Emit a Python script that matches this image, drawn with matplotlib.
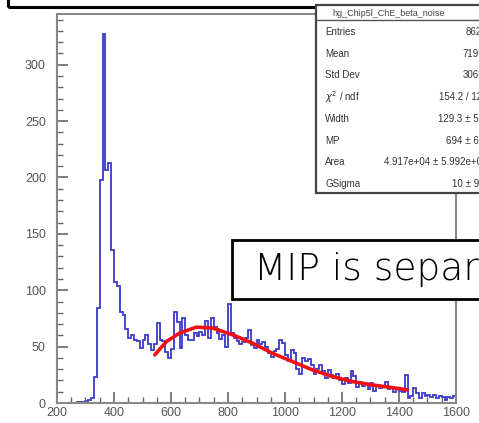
import matplotlib
matplotlib.use("Agg")
import matplotlib.pyplot as plt
import numpy as np
from matplotlib.patches import Rectangle
from matplotlib.ticker import MultipleLocator

W, H = 479, 423

# histogram: 10-unit bins from 200 to 1600
bin_edges = np.arange(200, 1601, 10)
counts = [
    0, 0, 0, 0, 0, 0, 0, 1, 1, 0,
    2, 3, 4, 23, 84, 198, 327, 207, 213, 136,
    107, 104, 81, 78, 66, 58, 60, 56, 55, 49,
    56, 60, 52, 47, 52, 71, 56, 55, 45, 40,
    48, 81, 72, 49, 75, 60, 56, 56, 62, 59,
    63, 60, 73, 58, 75, 67, 62, 57, 60, 50,
    88, 62, 58, 55, 52, 54, 58, 65, 51, 49,
    56, 52, 54, 50, 44, 41, 46, 48, 56, 53,
    43, 37, 47, 44, 30, 26, 40, 37, 39, 34,
    26, 30, 34, 28, 22, 29, 25, 22, 26, 20,
    17, 22, 18, 28, 24, 14, 19, 15, 17, 12,
    18, 11, 16, 13, 15, 19, 12, 14, 10, 13,
    11, 10, 25, 4, 6, 13, 9, 4, 9, 6,
    7, 5, 7, 4, 6, 5, 3, 5, 4, 6,
]

# red fit curve
fit_x = [543, 584, 630, 689, 747, 817, 887, 957, 1027, 1097, 1167, 1237, 1307, 1377, 1430]
fit_y = [42.7, 54.5, 62.0, 67.3, 66.4, 60.4, 53.0, 44.0, 36.7, 29.3, 23.4, 19.0, 16.0, 13.6, 11.6]

stat_labels = ["Entries", "Mean", "Std Dev", r"$\chi^{2}$ / ndf", "Width", "MP", "Area", "GSigma"]
stat_values = ["8620", "719.5", "306.3", "154.2 / 123", "129.3 \u00b1 5.3", "694 \u00b1 6.4",
               "4.917e+04 \u00b1 5.992e+02", "10 \u00b1 9.1"]
stat_title = "hg_Chip5l_ChE_beta_noise"
note_text = "MIP is separated"


def fx(px):
    return px / W


def fy(py):
    return 1 - py / H


fig = plt.figure(figsize=(W / 100, H / 100), dpi=100)
ax = fig.add_axes([fx(57), fy(403), (456 - 57) / W, (403 - 14) / H])

ax.stairs(counts, bin_edges, color="#3a3ac8", lw=1.3)
ax.plot(fit_x, fit_y, color="#f01010", lw=2.6, solid_capstyle="round")

ax.set_xlim(200, 1600)
ax.set_ylim(0, 345)
ax.xaxis.set_major_locator(MultipleLocator(200))
ax.xaxis.set_minor_locator(MultipleLocator(50))
ax.yaxis.set_major_locator(MultipleLocator(50))
ax.yaxis.set_minor_locator(MultipleLocator(10))
ax.tick_params(which="both", direction="in", color="#666666", top=False, right=False,
               labelsize=9, labelcolor="#555555")
ax.tick_params(which="major", length=8, width=1.2)
ax.tick_params(which="minor", length=4, width=1.0)
ax.tick_params(axis="y", pad=8)
ax.tick_params(axis="x", pad=3)
for lab in ax.get_xticklabels() + ax.get_yticklabels():
    lab.set_family("Liberation Sans")
for side in ("left", "bottom", "top", "right"):
    ax.spines[side].set_color("#888888")
    ax.spines[side].set_linewidth(1.5)

# top black box (cut off by the crop)
fig.patches.append(Rectangle((fx(8), fy(7)), fx(520), 0.1, transform=fig.transFigure,
                             fill=False, ec="black", lw=2.2, zorder=5))

# stats box
fig.patches.append(Rectangle((fx(316), fy(193)), fx(200), (193 - 5) / H,
                             transform=fig.transFigure, fc="white", ec="#444444",
                             lw=1.6, zorder=6))
fig.lines.append(plt.Line2D([fx(316), fx(479)], [fy(20), fy(20)], transform=fig.transFigure,
                            color="#555555", lw=1.0, zorder=7))
fig.text(fx(332), fy(13), stat_title, fontsize=6.5, color="#444444", va="center",
         family="Liberation Sans", zorder=8)
for i, (lab, val) in enumerate(zip(stat_labels, stat_values)):
    ypos = fy(32 + i * 21.7)
    fig.text(fx(325), ypos, lab, fontsize=7, color="#333333", va="center",
             family="Liberation Sans", zorder=8)
    fig.text(fx(487), ypos, val, fontsize=7, color="#333333", va="center", ha="right",
             family="Liberation Sans", zorder=8)

# annotation box
fig.patches.append(Rectangle((fx(232), fy(299)), fx(300), 59 / H, transform=fig.transFigure,
                             fc="white", ec="black", lw=2.0, zorder=6))
fig.text(fx(254), fy(280), note_text, fontsize=27, color="black", va="baseline",
         family="DejaVu Sans", weight="light", zorder=8)

fig.savefig("out.png", dpi=100)
